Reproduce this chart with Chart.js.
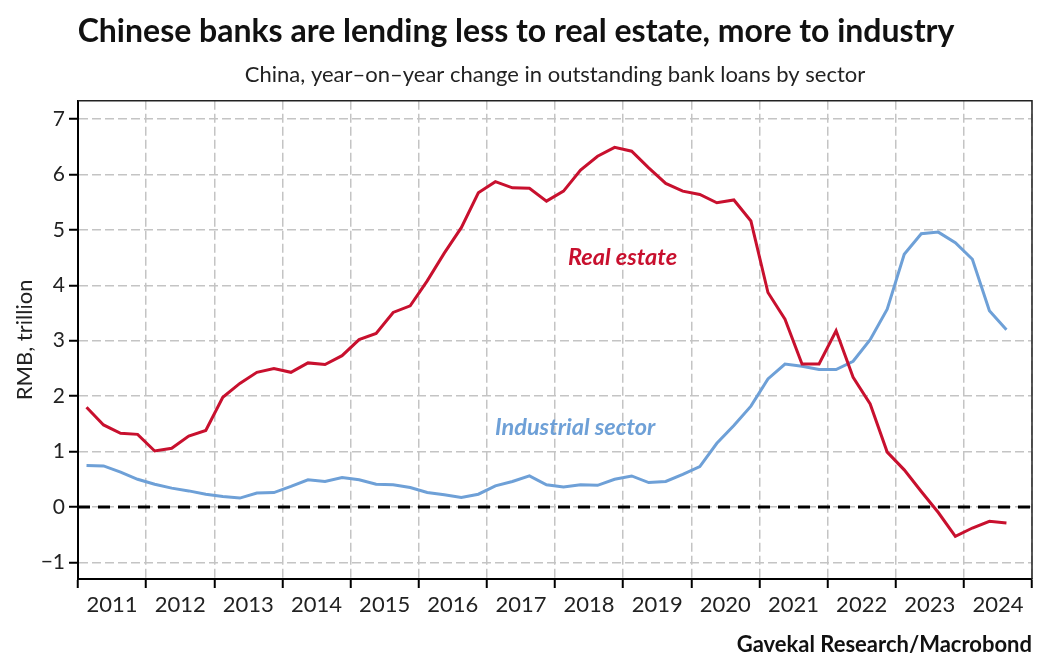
<!DOCTYPE html>
<html lang="en">
<head>
    <meta charset="UTF-8">
    <title>Chinese banks are lending less to real estate, more to industry</title>
    <script src="https://cdnjs.cloudflare.com/ajax/libs/Chart.js/4.4.1/chart.umd.min.js"></script>
    <style>
        html, body { margin: 0; padding: 0; background: #fff; }
        #wrap { width: 1043px; height: 658px; }
    </style>
</head>
<body>
    <div id="wrap"><canvas id="loansChart" width="1043" height="658"></canvas></div>

    <script>
        // quarterly observations
        var quarters = [
            '2011Q1','2011Q2','2011Q3','2011Q4','2012Q1','2012Q2','2012Q3','2012Q4',
            '2013Q1','2013Q2','2013Q3','2013Q4','2014Q1','2014Q2','2014Q3','2014Q4',
            '2015Q1','2015Q2','2015Q3','2015Q4','2016Q1','2016Q2','2016Q3','2016Q4',
            '2017Q1','2017Q2','2017Q3','2017Q4','2018Q1','2018Q2','2018Q3','2018Q4',
            '2019Q1','2019Q2','2019Q3','2019Q4','2020Q1','2020Q2','2020Q3','2020Q4',
            '2021Q1','2021Q2','2021Q3','2021Q4','2022Q1','2022Q2','2022Q3','2022Q4',
            '2023Q1','2023Q2','2023Q3','2023Q4','2024Q1','2024Q2','2024Q3'
        ];

        // RMB trillion, y/y change
        var realEstate = [
            1.80, 1.48, 1.33, 1.31, 1.01, 1.06, 1.28, 1.38,
            1.98, 2.23, 2.43, 2.50, 2.43, 2.60, 2.57, 2.73,
            3.02, 3.13, 3.51, 3.63, 4.08, 4.58, 5.04, 5.67,
            5.87, 5.76, 5.75, 5.52, 5.70, 6.08, 6.33, 6.49,
            6.42, 6.12, 5.84, 5.70, 5.64, 5.49, 5.54, 5.16,
            3.87, 3.39, 2.58, 2.58, 3.18, 2.34, 1.86, 0.99,
            0.67, 0.28, -0.10, -0.53, -0.38, -0.26, -0.29
        ];
        var industrial = [
            0.75, 0.74, 0.63, 0.50, 0.41, 0.34, 0.29, 0.23,
            0.19, 0.16, 0.25, 0.26, 0.37, 0.49, 0.46, 0.53,
            0.49, 0.41, 0.40, 0.35, 0.26, 0.22, 0.17, 0.23,
            0.38, 0.46, 0.56, 0.40, 0.36, 0.40, 0.39, 0.50,
            0.56, 0.44, 0.46, 0.59, 0.73, 1.15, 1.47, 1.82,
            2.31, 2.58, 2.54, 2.48, 2.48, 2.63, 3.02, 3.57,
            4.56, 4.93, 4.96, 4.77, 4.47, 3.54, 3.20
        ];

        var years = [2011, 2012, 2013, 2014, 2015, 2016, 2017, 2018, 2019, 2020, 2021, 2022, 2023, 2024];
        var yTicks = [-1, 0, 1, 2, 3, 4, 5, 6, 7];

        var RED = 'rgb(200, 16, 46)';
        var BLUE = 'rgb(110, 160, 215)';
        var FONT = 'Lato, "Open Sans", sans-serif';

        // mid-quarter position on a decimal-year axis
        function quarterPos(q) {
            return parseInt(q.slice(0, 4)) + (parseInt(q.slice(5)) - 0.5) / 4;
        }
        function toPoints(values) {
            return quarters.map(function (q, i) { return { x: quarterPos(q), y: values[i] }; });
        }

        var extras = {
            id: 'extras',
            beforeDatasetsDraw: function (chart) {
                var ctx = chart.ctx, a = chart.chartArea;
                var y0 = chart.scales.y.getPixelForValue(0);
                ctx.save();
                ctx.strokeStyle = '#000';
                ctx.lineWidth = 3;
                ctx.setLineDash([12, 8]);
                ctx.beginPath();
                ctx.moveTo(a.left, y0);
                ctx.lineTo(a.right, y0);
                ctx.stroke();
                ctx.restore();
            },
            afterDatasetsDraw: function (chart) {
                var ctx = chart.ctx, x = chart.scales.x, y = chart.scales.y;
                ctx.save();
                ctx.font = 'italic bold 23.5px ' + FONT;
                ctx.textBaseline = 'middle';
                ctx.textAlign = 'left';
                ctx.fillStyle = RED;
                ctx.fillText('Real estate', x.getPixelForValue(2018.19), y.getPixelForValue(4.5));
                ctx.fillStyle = BLUE;
                ctx.fillText('Industrial sector', x.getPixelForValue(2017.12), y.getPixelForValue(1.44));
                ctx.restore();
            },
            afterDraw: function (chart) {
                var ctx = chart.ctx, a = chart.chartArea;
                ctx.save();
                ctx.strokeStyle = '#222';
                ctx.lineWidth = 1.5;
                ctx.beginPath();
                ctx.moveTo(a.left, a.top);
                ctx.lineTo(a.right, a.top);
                ctx.lineTo(a.right, a.bottom);
                ctx.stroke();
                ctx.restore();
            }
        };

        var ctx = document.getElementById('loansChart').getContext('2d');
        var loansChart = new Chart(ctx, {
            type: 'line',
            data: {
                datasets: [{
                    label: 'Real estate',
                    data: toPoints(realEstate),
                    borderColor: RED,
                    borderWidth: 3,
                    pointRadius: 0,
                    tension: 0
                }, {
                    label: 'Industrial sector',
                    data: toPoints(industrial),
                    borderColor: BLUE,
                    borderWidth: 3,
                    pointRadius: 0,
                    tension: 0
                }]
            },
            options: {
                responsive: false,
                animation: false,
                layout: { padding: { left: 0, right: 11, top: 0, bottom: 0 } },
                plugins: {
                    legend: { display: false },
                    tooltip: { enabled: false },
                    title: {
                        display: true,
                        text: 'Chinese banks are lending less to real estate, more to industry',
                        color: '#111',
                        font: { family: FONT, size: 32, weight: 'bold' },
                        padding: { top: 12, bottom: 6 }
                    },
                    subtitle: {
                        display: true,
                        fullSize: false,
                        text: 'China, year\u2013on\u2013year change in outstanding bank loans by sector',
                        color: '#222',
                        font: { family: FONT, size: 22 },
                        padding: { top: 5, bottom: 13 }
                    }
                },
                scales: {
                    x: {
                        type: 'linear',
                        min: 2011,
                        max: 2025,
                        afterBuildTicks: function (scale) {
                            var t = [];
                            years.forEach(function (yr) {
                                t.push({ value: yr });
                                t.push({ value: yr + 0.5 });
                            });
                            t.push({ value: 2025 });
                            scale.ticks = t;
                        },
                        afterFit: function (scale) { scale.height = 79; },
                        ticks: {
                            autoSkip: false,
                            maxRotation: 0,
                            padding: 4,
                            color: '#222',
                            font: { family: FONT, size: 22 },
                            callback: function (value) {
                                return value % 1 === 0.5 ? String(Math.floor(value)) : '';
                            }
                        },
                        grid: {
                            color: function (c) { return c.tick && c.tick.value % 1 === 0 ? '#c4c4c4' : 'rgba(0,0,0,0)'; },
                            lineWidth: 1.5,
                            tickColor: function (c) { return c.tick && c.tick.value % 1 === 0 ? '#000' : 'rgba(0,0,0,0)'; },
                            tickLength: 9,
                            tickWidth: 2
                        },
                        border: { display: true, color: '#000', width: 2, dash: [9, 4] },
                        title: {
                            display: true,
                            text: 'Gavekal Research/Macrobond',
                            align: 'end',
                            color: '#111',
                            font: { family: FONT, size: 22, weight: 'bold' },
                            padding: { top: 0, bottom: 0 }
                        }
                    },
                    y: {
                        min: -1.3,
                        max: 7.33,
                        afterBuildTicks: function (scale) {
                            scale.ticks = yTicks.map(function (v) { return { value: v }; });
                        },
                        afterFit: function (scale) { scale.width = 78; },
                        ticks: {
                            padding: 4,
                            color: '#222',
                            font: { family: FONT, size: 21 },
                            callback: function (value) { return value < 0 ? '\u2212' + Math.abs(value) : String(value); }
                        },
                        grid: {
                            color: '#c4c4c4',
                            lineWidth: 1.5,
                            tickColor: '#000',
                            tickLength: 9,
                            tickWidth: 2
                        },
                        border: { display: true, color: '#000', width: 2, dash: [9, 4] },
                        title: {
                            display: true,
                            text: 'RMB, trillion',
                            color: '#222',
                            font: { family: FONT, size: 22 },
                            padding: { top: 12, bottom: 0 }
                        }
                    }
                }
            },
            plugins: [extras]
        });
    </script>
</body>
</html>
